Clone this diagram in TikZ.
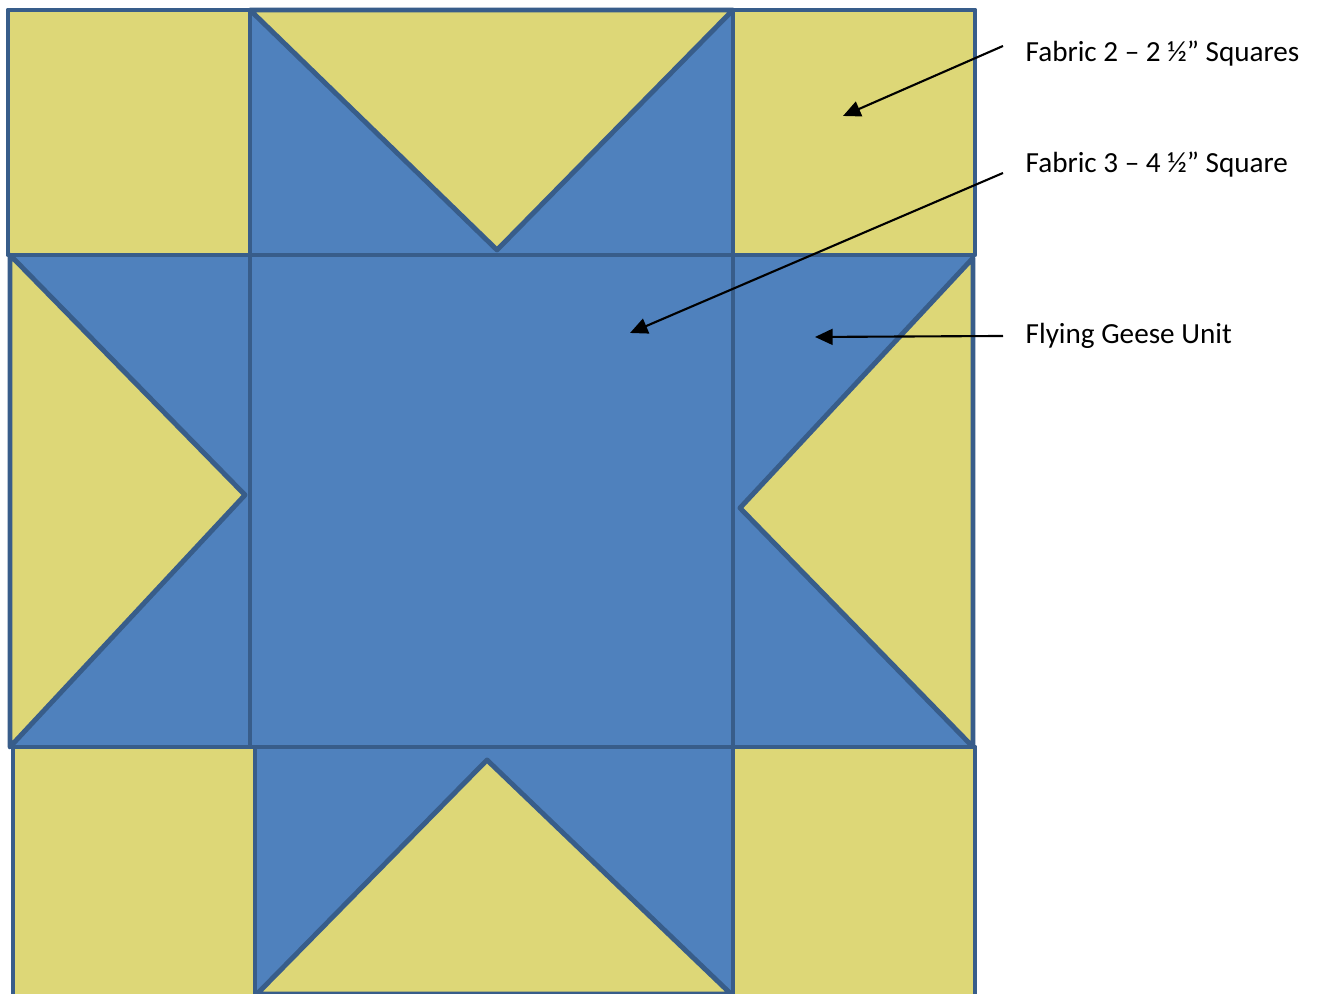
\documentclass[tikz,border=0pt]{standalone}
\usepackage{fontspec}
\setmainfont{Carlito}
\usetikzlibrary{arrows.meta}
\definecolor{gold}{RGB}{221,215,119}
\definecolor{sky}{RGB}{79,129,189}
\definecolor{seam}{RGB}{56,93,138}
\tikzset{
  patch/.style={draw=seam, line width=1.4pt, line join=round},
  lbl/.style={anchor=west, inner ysep=0pt, inner xsep=0.22cm, font=\fontsize{8.3}{10}\selectfont},
  pointer/.style={-{Triangle[length=5pt,width=4.5pt]}, line width=0.6pt}
}

\begin{document}
\begin{tikzpicture}
\useasboundingbox (0,0) rectangle (13.21,9.94);
\fill[white] (0,0) rectangle (13.21,9.94);

% top row
\draw[patch, fill=gold] (0.08,7.39) rectangle (2.50,9.84);
\draw[patch, fill=sky] (2.50,7.39) rectangle (7.33,9.84);
\draw[patch, fill=gold] (2.50,9.84) -- (7.33,9.84) -- (4.97,7.44) -- cycle;
\draw[patch, fill=gold] (7.33,7.39) rectangle (9.75,9.84);

% middle row
\draw[patch, fill=sky] (0.10,2.47) rectangle (2.50,7.39);
\draw[patch, fill=gold] (0.10,7.39) -- (2.45,4.99) -- (0.10,2.47) -- cycle;
\draw[patch, fill=sky] (2.50,2.47) rectangle (7.33,7.39);
\draw[patch, fill=sky] (7.33,2.47) rectangle (9.73,7.39);
\draw[patch, fill=gold] (9.73,7.36) -- (7.40,4.86) -- (9.73,2.47) -- cycle;

% bottom row
\draw[patch, fill=gold] (0.13,-0.05) rectangle (2.55,2.47);
\draw[patch, fill=sky] (2.55,-0.05) rectangle (7.33,2.47);
\draw[patch, fill=gold] (2.57,0.00) -- (4.87,2.34) -- (7.31,0.00) -- cycle;
\draw[patch, fill=gold] (7.33,-0.05) rectangle (9.75,2.47);

\draw
(10.03,9.40) node[lbl](f2){Fabric 2 – 2 ½” Squares}
(10.03,8.29) node[lbl](f3){Fabric 3 – 4 ½” Square}
(10.03,6.58) node[lbl](geese){Flying Geese Unit};

\coordinate (f2tip) at (8.43,8.78);
\coordinate (f3tip) at (6.30,6.61);
\coordinate (geesetip) at (8.15,6.57);

\draw[pointer] ([yshift=0.08cm]f2.west) -- (f2tip);
\draw[pointer] ([yshift=-0.08cm]f3.west) -- (f3tip);
\draw[pointer] (geese.west) -- (geesetip);

\end{tikzpicture}
\end{document}
